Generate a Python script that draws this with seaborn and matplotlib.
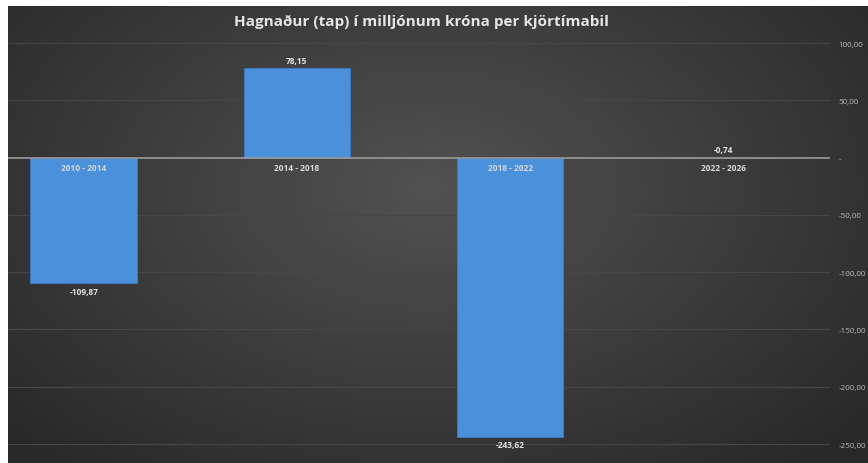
import numpy as np
import pandas as pd
import seaborn as sns
import matplotlib.pyplot as plt
from matplotlib.ticker import FuncFormatter

# data
periods = ["2010 - 2014", "2014 - 2018", "2018 - 2022", "2022 - 2026"]
profit = [-109.87, 78.15, -243.62, -0.74]
y_ticks = [100, 50, 0, -50, -100, -150, -200, -250]
title = "Hagnaður (tap) í milljónum króna per kjörtímabil"

df = pd.DataFrame({"period": periods, "profit": profit})

W, H = 868, 464
fig = plt.figure(figsize=(W / 100, H / 100), dpi=100, facecolor="white")

# dark radial gradient background
bg = fig.add_axes([8 / W, 0, (W - 8) / W, (H - 7) / H])
gx, gy = np.meshgrid(np.linspace(0, 1, 400), np.linspace(0, 1, 220))
r = np.sqrt(((gx - 0.49) / 0.75) ** 2 + ((gy - 0.40) / 0.9) ** 2)
shade = np.clip(0.32 - 0.18 * r, 0.16, 0.32)
bg.imshow(np.dstack([shade] * 3), aspect="auto", extent=[0, 1, 0, 1], origin="upper")
bg.set_axis_off()

sns.set_style("dark")
plt.rcParams["font.family"] = ["Open Sans", "DejaVu Sans"]

top_px, bot_px, zero_px, scale = 30, 462, 158.6, 1.1457
ax = fig.add_axes([8 / W, (H - bot_px) / H, (830 - 8) / W, (bot_px - top_px) / H])
ax.patch.set_alpha(0)

sns.barplot(data=df, x="period", y="profit", color="#4A90DB", saturation=1,
            width=0.5, ax=ax, zorder=3, edgecolor="#3f7cc0", linewidth=0.6)

ax.set_xlim(-0.355, 3.5)
ax.set_ylim(-(bot_px - zero_px) / scale, (zero_px - top_px) / scale)

ax.yaxis.tick_right()
ax.set_yticks(y_ticks)
ax.yaxis.set_major_formatter(FuncFormatter(
    lambda v, p: "-" if v == 0 else f"{v:.2f}".replace(".", ",")))
ax.tick_params(axis="y", length=0, pad=6, labelsize=5.8, labelcolor="#bdbdbd")
ax.set_xticks([])
ax.set_xlabel("")
ax.set_ylabel("")
for s in ax.spines.values():
    s.set_visible(False)

for t in y_ticks:
    if t != 0:
        ax.axhline(t, color="#474747", lw=0.8, zorder=1)
ax.axhline(0, color="#9a9a9a", lw=1.2, zorder=4)

for i, (p, v) in enumerate(zip(periods, profit)):
    ax.text(i, -5, p, ha="center", va="top", fontsize=6, fontweight="bold",
            color="#d8d8d8", zorder=5)
    if v >= 0 or v > -5:
        ax.text(i, max(v, 0) + 3, f"{v:.2f}".replace(".", ","), ha="center",
                va="bottom", fontsize=6, fontweight="bold", color="#e0e0e0", zorder=5)
    else:
        ax.text(i, v - 3, f"{v:.2f}".replace(".", ","), ha="center",
                va="top", fontsize=6, fontweight="bold", color="#e0e0e0", zorder=5)

fig.text(421 / W, 1 - 22 / H, title, ha="center", va="center", fontsize=11,
         fontweight="bold", color="#e6e6e6")

fig.savefig("out.png", dpi=100, facecolor="white")
